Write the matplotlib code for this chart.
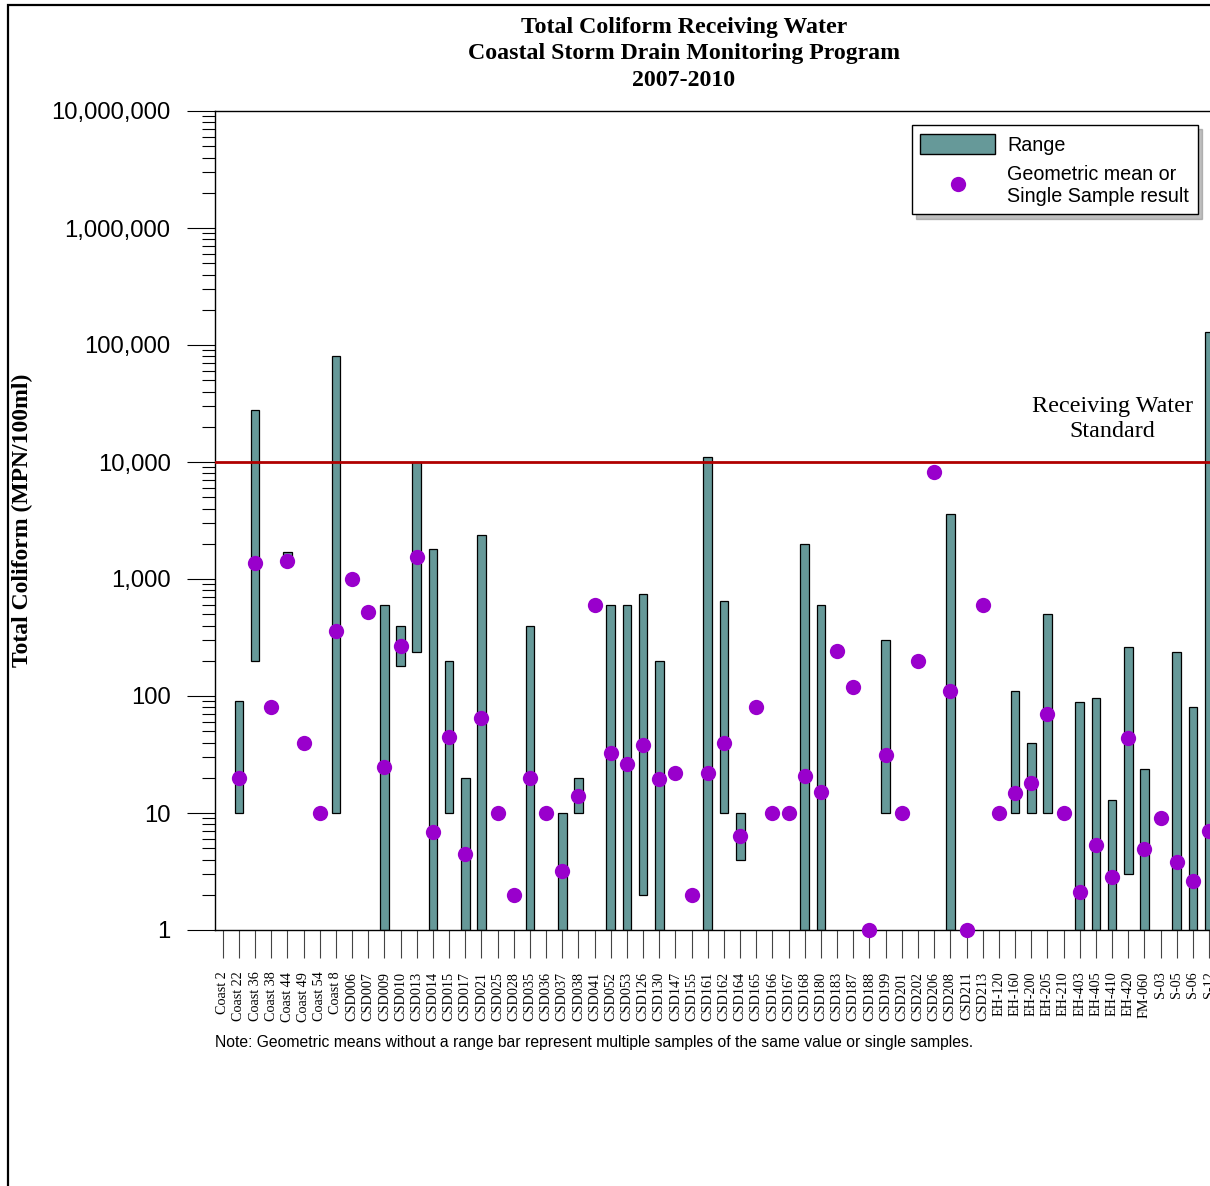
import numpy as np
import matplotlib
matplotlib.use("Agg")
import matplotlib.pyplot as plt
from matplotlib.patches import Patch, Rectangle
from matplotlib.lines import Line2D
from matplotlib.ticker import FixedLocator, LogLocator, NullFormatter

nan = np.nan

stations = ["Coast 2", "Coast 22", "Coast 36", "Coast 38", "Coast 44", "Coast 49", "Coast 54", "Coast 8",
            "CSD006", "CSD007", "CSD009", "CSD010", "CSD013", "CSD014", "CSD015", "CSD017", "CSD021",
            "CSD025", "CSD028", "CSD035", "CSD036", "CSD037", "CSD038", "CSD041", "CSD052", "CSD053",
            "CSD126", "CSD130", "CSD147", "CSD155", "CSD161", "CSD162", "CSD164", "CSD165", "CSD166",
            "CSD167", "CSD168", "CSD180", "CSD183", "CSD187", "CSD188", "CSD199", "CSD201", "CSD202",
            "CSD206", "CSD208", "CSD211", "CSD213", "EH-120", "EH-160", "EH-200", "EH-205", "EH-210",
            "EH-403", "EH-405", "EH-410", "EH-420", "FM-060", "S-03", "S-05", "S-06", "S-12"]

range_low = [nan, 10, 200, nan, 1400, nan, nan, 10,
             nan, nan, 1, 180, 240, 1, 10, 1, 1,
             nan, nan, 1, nan, 1, 10, nan, 1, 1,
             2, 1, nan, nan, 1, 10, 4, nan, nan,
             nan, 1, 1, nan, nan, nan, 10, nan, nan,
             nan, 1, nan, nan, nan, 10, 10, 10, nan,
             1, 1, 1, 3, 1, nan, 1, 1, 1]

range_high = [nan, 90, 28000, nan, 1700, nan, nan, 80000,
              nan, nan, 600, 400, 10000, 1800, 200, 20, 2400,
              nan, nan, 400, nan, 10, 20, nan, 600, 600,
              740, 200, nan, nan, 11000, 650, 10, nan, nan,
              nan, 2000, 600, nan, nan, nan, 300, nan, nan,
              nan, 3600, nan, nan, nan, 110, 40, 500, nan,
              88, 97, 13, 260, 24, nan, 240, 80, 130000]

geo_mean = [nan, 20, 1370, 80, 1420, 40, 10, 360,
            1000, 520, 24.7, 267, 1540, 6.9, 44.7, 4.46, 65,
            10, 2, 19.9, 10, 3.2, 14, 600, 32.6, 26.2,
            38, 19.5, 22, 2, 22, 40, 6.36, 80, 10,
            10, 20.7, 15.1, 242, 119, 1, 31.3, 10, 200,
            8220, 110, 1, 600, 10, 14.8, 18, 70, 10,
            2.1, 5.3, 2.84, 43.8, 4.9, 9.1, 3.8, 2.6, 7.0]

standard = 10000
ytick_values = [1, 10, 100, 1000, 10000, 100000, 1000000, 10000000]
ytick_labels = ["1", "10", "100", "1,000", "10,000", "100,000", "1,000,000", "10,000,000"]

SERIF = ["Liberation Serif", "DejaVu Serif"]
SANS = ["Liberation Sans", "DejaVu Sans"]
BAR_COLOR = "#669999"
DOT_COLOR = "#9900CC"
LINE_COLOR = "#B00000"

W, H = 1210, 1186
fig = plt.figure(figsize=(W / 100, H / 100), dpi=100)

def fx(px):
    return px / W

def fy(py):
    return 1 - py / H

unit = 16.17
x_left = -0.476
x_right = 62.0
ax_w = (x_right - x_left) * unit
ax = fig.add_axes([fx(215), fy(930), ax_w / W, (930 - 111) / H])

x = np.arange(len(stations))
lo = np.array(range_low, dtype=float)
hi = np.array(range_high, dtype=float)
gm = np.array(geo_mean, dtype=float)
has = ~np.isnan(lo)

ax.bar(x[has], hi[has] - lo[has], bottom=lo[has], width=0.54, color=BAR_COLOR,
       edgecolor="black", linewidth=0.9, zorder=2)
ax.axhline(standard, color=LINE_COLOR, linewidth=2.0, zorder=3)
ax.plot(x, gm, linestyle="none", marker="o", markersize=11, color=DOT_COLOR,
        markeredgewidth=0, zorder=4, clip_on=False)

ax.set_yscale("log")
ax.set_ylim(1, 10000000)
ax.set_xlim(x_left, x_right)

ax.yaxis.set_major_locator(FixedLocator(ytick_values))
ax.set_yticklabels(ytick_labels, family=SANS, fontsize=17.2)
ax.yaxis.set_minor_locator(LogLocator(base=10, subs=np.arange(2, 10)))
ax.yaxis.set_minor_formatter(NullFormatter())
ax.tick_params(axis="y", which="major", direction="out", length=20, width=0.8, pad=12)
ax.tick_params(axis="y", which="minor", direction="out", length=9.5, width=0.8)

ax.set_xticks(x)
ax.set_xticklabels(stations, rotation=90, family=SERIF, fontsize=10.2, va="top")
ax.tick_params(axis="x", which="major", direction="out", length=20, width=0.8, pad=10,
               color="#444444")
ax.tick_params(axis="x", which="minor", bottom=False)

for s in ["left", "top", "bottom", "right"]:
    ax.spines[s].set_linewidth(1.0)

ax.text(55.0, 2.35e4, "Receiving Water\nStandard", ha="center", va="center",
        family=SERIF, fontsize=17.4, linespacing=1.25, zorder=5)

handles = [Patch(facecolor=BAR_COLOR, edgecolor="black", linewidth=1.0),
           Line2D([], [], linestyle="none", marker="o", markersize=11,
                  color=DOT_COLOR, markeredgewidth=0)]
leg = ax.legend(handles, ["Range", "Geometric mean or\nSingle Sample result"],
                loc="upper right", bbox_to_anchor=(fx(1198), fy(125)),
                bbox_transform=fig.transFigure, borderaxespad=0,
                prop={"family": SANS, "size": 14.2}, frameon=True, fancybox=False,
                shadow={"ox": 3, "oy": -3, "color": "#808080"},
                handlelength=3.8, handleheight=1.2, handletextpad=0.6,
                borderpad=0.45, labelspacing=0.5)
leg.get_frame().set_edgecolor("black")
leg.get_frame().set_linewidth(1.0)
leg.set_zorder(6)

for text, ypx in [("Total Coliform Receiving Water", 27),
                  ("Coastal Storm Drain Monitoring Program", 54),
                  ("2007-2010", 81)]:
    fig.text(fx(684), fy(ypx), text, ha="center", va="center",
             family=SERIF, fontsize=17.2, fontweight="bold")

fig.text(fx(22), fy(520), "Total Coliform (MPN/100ml)", rotation=90, ha="center", va="center",
         family=SERIF, fontsize=17, fontweight="bold")

fig.text(fx(215), fy(1043), "Note: Geometric means without a range bar represent multiple samples "
         "of the same value or single samples.", ha="left", va="center",
         family=SANS, fontsize=11.3)

fig.add_artist(Rectangle((fx(8), -0.1), 1.2, fy(5) + 0.1, transform=fig.transFigure,
                         fill=False, edgecolor="black", linewidth=1.6, clip_on=False))

fig.savefig("out.png", dpi=100)
